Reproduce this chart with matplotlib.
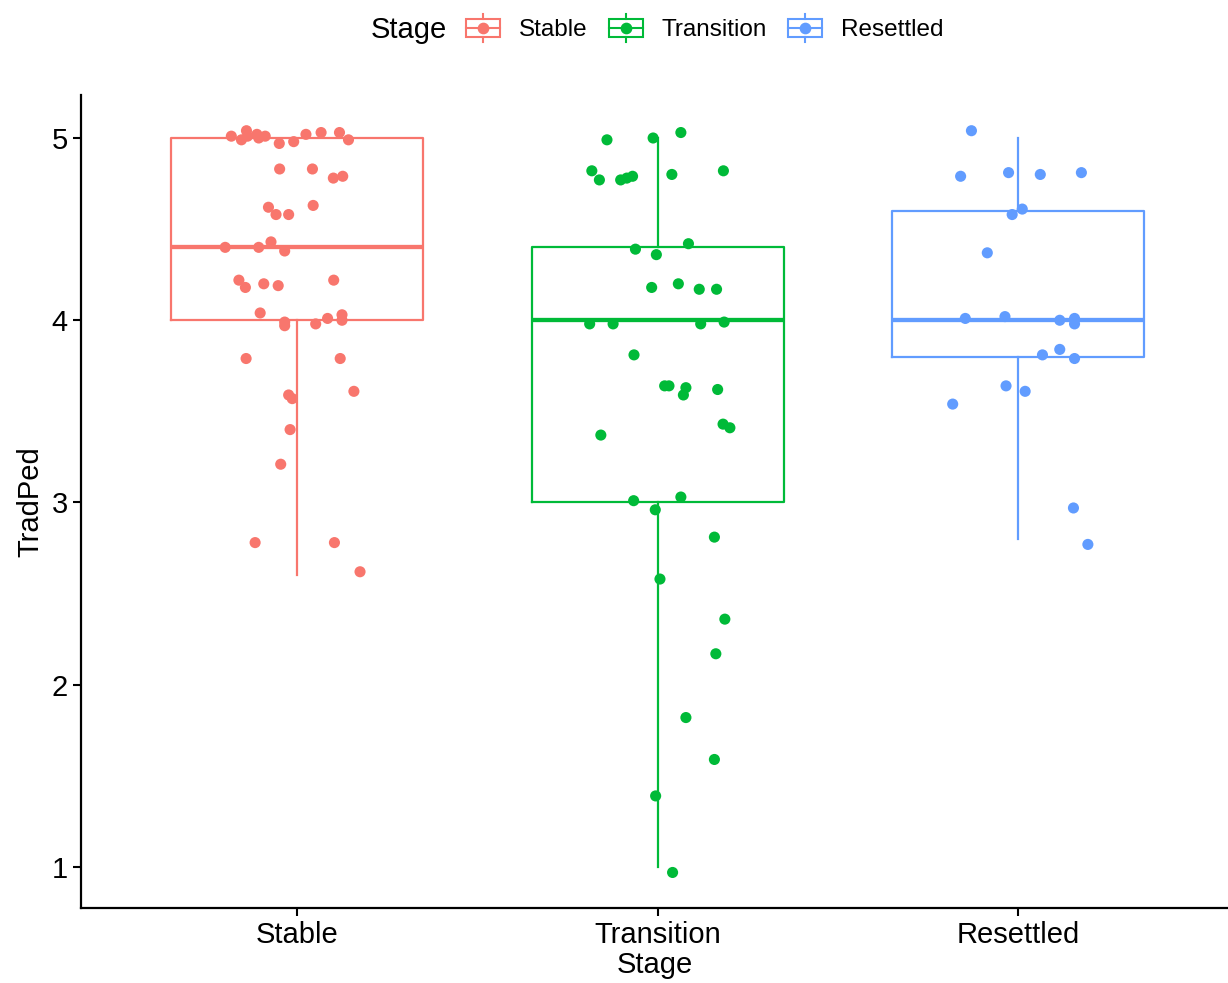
import numpy as np
import matplotlib
matplotlib.use("Agg")
import matplotlib.pyplot as plt
from matplotlib.lines import Line2D
from matplotlib.patches import Rectangle
from matplotlib.legend_handler import HandlerBase

plt.rcParams['font.family'] = ['Liberation Sans', 'DejaVu Sans']

stages = ["Stable", "Transition", "Resettled"]
colors = ["#F8766D", "#00BA38", "#619CFF"]

# box stats: lower whisker, q1, median, q3, upper whisker
whislo = [2.6, 1.0, 2.8]
q1 = [4.0, 3.0, 3.8]
med = [4.4, 4.0, 4.0]
q3 = [5.0, 4.4, 4.6]
whishi = [5.0, 5.0, 5.0]

# jittered points: horizontal offset from category, value
stable_dx = [-0.183, -0.141, -0.155, -0.138, -0.112, -0.107, -0.089, -0.050, -0.010, 0.024,
             0.066, 0.117, 0.142, -0.049, 0.042, 0.100, 0.126, -0.080, -0.059, -0.024,
             0.044, -0.200, -0.107, -0.073, -0.035, -0.162, -0.144, -0.093, -0.053, 0.101,
             -0.103, -0.035, -0.035, 0.051, 0.084, 0.124, 0.124, -0.142, 0.119, -0.024,
             -0.014, 0.157, -0.020, -0.046, -0.117, 0.103, 0.174]
stable_y = [5.01, 5.04, 4.99, 5.01, 5.02, 5.00, 5.01, 4.97, 4.98, 5.02,
            5.03, 5.03, 4.99, 4.83, 4.83, 4.78, 4.79, 4.62, 4.58, 4.58,
            4.63, 4.40, 4.40, 4.43, 4.38, 4.22, 4.18, 4.20, 4.19, 4.22,
            4.04, 3.99, 3.97, 3.98, 4.01, 4.03, 4.00, 3.79, 3.79, 3.59,
            3.57, 3.61, 3.40, 3.21, 2.78, 2.78, 2.62]

transition_dx = [-0.141, -0.013, 0.064, -0.183, -0.162, -0.103, -0.086, -0.070, 0.039, 0.182,
                 -0.062, -0.004, 0.085, -0.017, 0.057, 0.115, 0.163, -0.189, -0.124, 0.119,
                 0.184, -0.066, 0.019, 0.031, 0.078, 0.071, 0.166, 0.181, 0.200, -0.158,
                 -0.067, 0.064, -0.007, 0.157, 0.006, 0.186, 0.161, 0.078, 0.157, -0.006,
                 0.041]
transition_y = [4.99, 5.00, 5.03, 4.82, 4.77, 4.77, 4.78, 4.79, 4.80, 4.82,
                4.39, 4.36, 4.42, 4.18, 4.20, 4.17, 4.17, 3.98, 3.98, 3.98,
                3.99, 3.81, 3.64, 3.64, 3.63, 3.59, 3.62, 3.43, 3.41, 3.37,
                3.01, 3.03, 2.96, 2.81, 2.58, 2.36, 2.17, 1.82, 1.59, 1.39,
                0.97]

resettled_dx = [-0.130, -0.160, -0.027, 0.061, 0.175, -0.017, 0.011, -0.086, -0.147, -0.037,
                0.115, 0.156, 0.156, 0.067, 0.115, 0.156, -0.034, 0.019, -0.182, 0.153,
                0.193]
resettled_y = [5.04, 4.79, 4.81, 4.80, 4.81, 4.58, 4.61, 4.37, 4.01, 4.02,
               4.00, 4.01, 3.98, 3.81, 3.84, 3.79, 3.64, 3.61, 3.54, 2.97,
               2.77]

points_dx = [stable_dx, transition_dx, resettled_dx]
points_y = [stable_y, transition_y, resettled_y]


class BoxKey(HandlerBase):
    def create_artists(self, legend, orig_handle, xdescent, ydescent,
                       width, height, fontsize, trans):
        c = orig_handle.get_color()
        x0, y0 = -xdescent, -ydescent
        xm = x0 + width / 2
        lo, hi = y0 + 0.19 * height, y0 + 0.81 * height
        rect = Rectangle((x0, lo), width, hi - lo, fill=False, ec=c, lw=1.5, transform=trans)
        mid = Line2D([x0, x0 + width], [y0 + height / 2] * 2, color=c, lw=1.5, transform=trans)
        w1 = Line2D([xm, xm], [y0, lo], color=c, lw=1.5, transform=trans)
        w2 = Line2D([xm, xm], [hi, y0 + height], color=c, lw=1.5, transform=trans)
        dot = Line2D([xm], [y0 + height / 2], marker='o', ms=7.4, color=c, lw=0, transform=trans)
        return [rect, mid, w1, w2, dot]


fig = plt.figure(figsize=(12.28, 9.83), dpi=100)
ax = fig.add_axes([81 / 1228, 1 - 908 / 983, 1 - 81 / 1228, (908 - 95) / 983])

for i in range(3):
    pos = i + 1
    stats = [dict(med=med[i], q1=q1[i], q3=q3[i], whislo=whislo[i], whishi=whishi[i], fliers=[])]
    ax.bxp(stats, positions=[pos], widths=0.7, showcaps=False, showfliers=False,
           boxprops=dict(color=colors[i], lw=1.6),
           whiskerprops=dict(color=colors[i], lw=1.6),
           medianprops=dict(color=colors[i], lw=3.1, solid_capstyle='butt'),
           manage_ticks=False, zorder=2)
    xs = pos + np.array(points_dx[i])
    ax.scatter(xs, points_y[i], s=64, color=colors[i], edgecolors='none', zorder=3)

ax.set_xlim(0.4, 0.4 + (1228 - 81) / 360.5)
ax.set_ylim(5 - (908 - 138) / 182.25, 5 - (95 - 138) / 182.25)
ax.set_xticks([1, 2, 3])
ax.set_xticklabels(stages)
ax.set_yticks([1, 2, 3, 4, 5])
ax.tick_params(axis='both', labelsize=21, length=5.5, width=1.5, colors='black', pad=4)
for s in ['top', 'right']:
    ax.spines[s].set_visible(False)
for s in ['left', 'bottom']:
    ax.spines[s].set_linewidth(1.6)
ax.set_xlabel("Stage", fontsize=21, labelpad=1)
ax.set_ylabel("TradPed", fontsize=21, labelpad=5)

handles = [Line2D([], [], color=c) for c in colors]
fig.text(371 / 1228, 1 - 30 / 983, "Stage", fontsize=21, va='center', ha='left')
fig.legend(handles, stages, handler_map={Line2D: BoxKey()}, loc='center left',
           bbox_to_anchor=(466 / 1228, 1 - 28 / 983), ncol=3, frameon=False,
           fontsize=17.5, handlelength=1.4, handleheight=1.45, handletextpad=0.78,
           columnspacing=0.86, borderpad=0, borderaxespad=0)

fig.savefig("out.png", dpi=100)
